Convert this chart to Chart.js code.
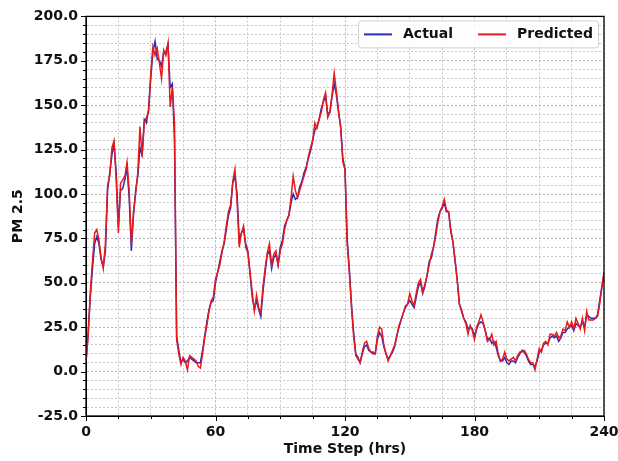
<!DOCTYPE html>
<html>
<head>
<meta charset="utf-8">
<script src="https://cdn.jsdelivr.net/npm/chart.js@4/dist/chart.umd.min.js"></script>
<style>
  html, body { margin: 0; padding: 0; background: #fff; }
  #wrap { width: 618px; height: 461px; }
</style>
</head>
<body>
<div id="wrap"><canvas id="myChart" width="618" height="461"></canvas></div>
<script>
// PM 2.5 readings, one per hour, t = 0 .. 240
const actual = [
  5, 22, 42, 58, 72, 76, 72, 63, 59, 68,
  102, 112, 122, 128, 112, 82, 102, 103, 108, 115,
  98, 68, 88, 102, 110, 126, 122, 142, 140, 148,
  165, 180, 186, 176, 175, 172, 180, 180, 184, 160,
  162, 130, 20, 12, 5, 7, 5, 6, 8, 7,
  6, 5, 5, 5, 12, 20, 28, 35, 39, 40,
  50, 56, 62, 68, 72, 80, 88, 92, 106, 110,
  100, 74, 78, 80, 72, 68, 55, 42, 35, 40,
  35, 31, 45, 56, 66, 68, 58, 64, 66, 60,
  70, 74, 82, 85, 88, 95, 100, 97, 98, 104,
  107, 112, 115, 120, 124, 130, 136, 138, 142, 148,
  152, 155, 145, 146, 155, 162, 156, 146, 138, 120,
  114, 75, 58, 38, 22, 10, 8, 5, 10, 14,
  15, 12, 11, 10, 10, 18, 22, 20, 14, 10,
  7, 9, 11, 14, 20, 25, 29, 33, 36, 38,
  40, 38, 36, 42, 48, 50, 44, 48, 54, 62,
  64, 70, 78, 86, 90, 92, 95, 90, 90, 80,
  73, 62, 52, 38, 34, 30, 28, 24, 25, 24,
  20, 24, 27, 28, 27, 23, 18, 19, 16, 17,
  14, 9, 6, 6, 8, 5, 4, 6, 6, 5,
  8, 10, 12, 11, 9, 6, 4, 4, 3, 6,
  11, 12, 15, 16, 16, 19, 20, 19, 20, 17,
  19, 22, 22, 24, 25, 26, 23, 27, 26, 25,
  28, 25, 32, 31, 30, 30, 30, 32, 40, 48,
  55
];
const predicted = [
  6, 20, 45, 62, 78, 80, 74, 64, 58, 72,
  105, 110, 126, 130, 108, 78, 106, 108, 110, 118,
  102, 72, 90, 100, 112, 138, 121, 140, 143, 146,
  168, 183, 178, 182, 174, 165, 181, 178, 185, 149,
  160, 140, 18, 10, 4, 8, 6, 1, 9, 8,
  7, 6, 3, 2, 10, 19, 26, 34, 40, 42,
  52, 56, 60, 67, 73, 82, 90, 94, 107, 114,
  96, 70, 78, 82, 70, 67, 56, 45, 34, 43,
  36, 33, 48, 58, 67, 72, 60, 66, 68, 60,
  68, 72, 80, 85, 88, 98, 110, 102, 98, 102,
  106, 110, 114, 121, 126, 130, 140, 137, 142, 146,
  153, 157, 143, 146, 156, 168, 158, 147, 137, 118,
  114, 72, 56, 36, 20, 9, 7, 5, 11, 16,
  17, 13, 11, 11, 10, 20, 25, 24, 15, 10,
  6, 9, 12, 15, 20, 26, 29, 33, 37, 38,
  44, 40, 37, 44, 50, 52, 45, 49, 54, 60,
  66, 70, 76, 84, 90, 93, 97, 91, 90, 79,
  73, 63, 51, 38, 35, 30, 27, 21, 26, 23,
  18, 25, 28, 32, 28, 23, 17, 18, 21, 15,
  17, 10, 6, 7, 11, 7, 6, 7, 8, 6,
  9, 11, 11, 12, 10, 7, 5, 5, 1, 7,
  13, 11, 16, 17, 15, 21, 21, 20, 22, 19,
  20, 24, 23, 28, 25, 28, 24, 30, 27, 24,
  30, 23, 34, 29, 29, 29, 30, 31, 38, 47,
  56
];
const xTickLabels = [0, 60, 120, 180, 240];
const yTickLabels = [-25, 0, 25, 50, 75, 100, 125, 150, 175, 200];

const toPoints = arr => arr.map((v, i) => ({ x: i, y: v }));

const fontFam = "'DejaVu Sans', sans-serif";

// frame, outward tick marks and legend box, drawn like matplotlib
const framePlugin = {
  id: 'frame',
  afterDraw(chart) {
    const ctx = chart.ctx;
    const a = chart.chartArea;
    const xs = chart.scales.x, ys = chart.scales.y;
    ctx.save();
    ctx.strokeStyle = '#000';
    ctx.lineWidth = 1;
    xs.ticks.forEach(t => {
      const px = Math.round(xs.getPixelForValue(t.value)) + 0.5;
      const len = xTickLabels.includes(t.value) ? 5 : 3;
      ctx.beginPath(); ctx.moveTo(px, a.bottom); ctx.lineTo(px, a.bottom + len); ctx.stroke();
    });
    ys.ticks.forEach(t => {
      const py = Math.round(ys.getPixelForValue(t.value)) + 0.5;
      const len = yTickLabels.includes(t.value) ? 5 : 3;
      ctx.beginPath(); ctx.moveTo(a.left, py); ctx.lineTo(a.left - len, py); ctx.stroke();
    });
    ctx.lineWidth = 1.3;
    ctx.strokeRect(a.left, a.top, a.right - a.left, a.bottom - a.top);

    // legend
    const lx = a.right - 246, ly = a.top + 4, lw = 240, lh = 27;
    ctx.fillStyle = 'rgba(255,255,255,0.85)';
    ctx.strokeStyle = '#d0d0d0';
    ctx.lineWidth = 1;
    ctx.beginPath();
    ctx.roundRect(lx + 0.5, ly + 0.5, lw, lh, 3);
    ctx.fill(); ctx.stroke();
    const items = chart.data.datasets;
    const offs = [6, 120];
    items.forEach((ds, i) => {
      const x0 = lx + offs[i];
      const yy = ly + lh / 2 + 0.5;
      ctx.strokeStyle = ds.borderColor;
      ctx.lineWidth = 2;
      ctx.beginPath(); ctx.moveTo(x0, yy); ctx.lineTo(x0 + 28, yy); ctx.stroke();
      ctx.fillStyle = '#111';
      ctx.font = 'bold 14px ' + fontFam;
      ctx.textBaseline = 'middle';
      ctx.textAlign = 'left';
      ctx.fillText(ds.label, x0 + 39, yy);
    });
    ctx.restore();
  }
};

const gridColor = '#c8c8c8';

new Chart(document.getElementById('myChart').getContext('2d'), {
  type: 'line',
  data: {
    datasets: [{
      label: 'Actual',
      data: toPoints(actual),
      borderColor: '#2b2bb8',
      borderWidth: 1.5,
      pointRadius: 0,
      tension: 0,
      order: 2
    }, {
      label: 'Predicted',
      data: toPoints(predicted),
      borderColor: '#e41a1c',
      borderWidth: 1.5,
      pointRadius: 0,
      tension: 0,
      order: 1
    }]
  },
  options: {
    responsive: false,
    animation: false,
    events: [],
    layout: { padding: { top: 15, right: 14, left: 10, bottom: 0 } },
    plugins: { legend: { display: false }, tooltip: { enabled: false } },
    scales: {
      x: {
        type: 'linear',
        min: 0, max: 240,
        afterFit: s => { s.height = 45; s.paddingLeft = 0; s.paddingRight = 0; },
        ticks: {
          stepSize: 15, autoSkip: false, maxRotation: 0, padding: 8,
          color: '#111',
          font: { family: fontFam, size: 14, weight: 'bold' },
          callback: v => xTickLabels.includes(v) ? String(v) : ''
        },
        grid: {
          color: c => (c.tick && xTickLabels.includes(c.tick.value)) ? '#b4b4b4' : gridColor,
          lineWidth: 1, drawTicks: false
        },
        border: { display: true, color: '#000', dash: [2, 2] },
        title: {
          display: true, text: 'Time Step (hrs)', color: '#111', padding: { top: 2, bottom: 3 },
          font: { family: fontFam, size: 14, weight: 'bold' }
        }
      },
      y: {
        min: -25, max: 200,
        afterFit: s => { s.width = 76; },
        ticks: {
          stepSize: 5, autoSkip: false, padding: 8,
          color: '#111',
          font: { family: fontFam, size: 14, weight: 'bold' },
          callback: v => yTickLabels.includes(v) ? v.toFixed(1) : ''
        },
        grid: {
          color: c => (c.tick && yTickLabels.includes(c.tick.value)) ? '#b4b4b4' : gridColor,
          lineWidth: 1, drawTicks: false
        },
        border: { display: true, color: '#000', dash: [2, 2] },
        title: {
          display: true, text: 'PM 2.5', color: '#111', padding: { top: 0, bottom: 4 },
          font: { family: fontFam, size: 14, weight: 'bold' }
        }
      }
    }
  },
  plugins: [framePlugin]
});
</script>
</body>
</html>
